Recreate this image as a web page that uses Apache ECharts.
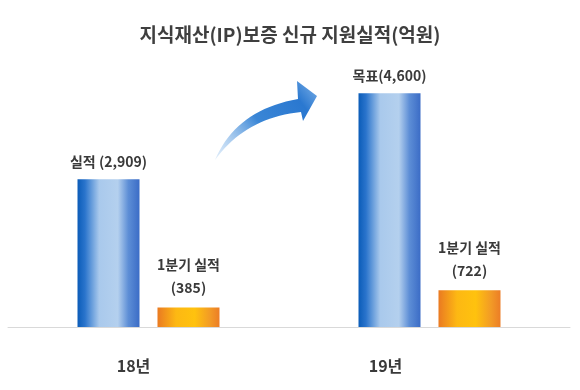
<!DOCTYPE html>
<html><head><meta charset="utf-8">
<script src="https://cdn.jsdelivr.net/npm/echarts@6/dist/echarts.min.js"></script>
<style>html,body{margin:0;padding:0;background:#fff}#c{width:580px;height:390px}</style>
</head><body><div id="c"></div>
<script>
const categories = ['18년', '19년'];
const mainValues = [2909, 4600];
const mainLabels = ['실적 (2,909)', '목표(4,600)'];
const q1Values = [385, 722];
const q1Labels = ['1분기 실적\n(385)', '1분기 실적\n(722)'];

const font = '"Noto Sans CJK KR", "Noto Sans", sans-serif';
const chart = echarts.init(document.getElementById('c'));
function lin(x, y, x2, y2, stops) {
  return {type: 'linear', x: x, y: y, x2: x2, y2: y2,
    colorStops: stops.map(s => ({offset: s[0], color: s[1]}))};
}
const blueGrad = lin(0, 0, 1, 0, [
  [0, '#0b5cb8'], [0.12, '#2a74cc'], [0.35, '#a9c9ec'],
  [0.65, '#b4d0ee'], [0.82, '#5d8ed6'], [1, '#3b6cc6']
]);
const orangeGrad = lin(0, 0, 1, 0, [
  [0, '#ea7a22'], [0.3, '#fdb813'], [0.6, '#ffc20e'], [0.85, '#f29a26'], [1, '#ec7d26']
]);
// decorative arrow outline (quadratic curves sampled)
function quad(p0, p1, p2, n) {
  const pts = [];
  for (let i = 0; i <= n; i++) {
    const t = i / n, u = 1 - t;
    pts.push([u * u * p0[0] + 2 * u * t * p1[0] + t * t * p2[0],
              u * u * p0[1] + 2 * u * t * p1[1] + t * t * p2[1]]);
  }
  return pts;
}
const arrowPts = [].concat(
  quad([215, 160], [236, 110], [298, 99], 20),
  [[297, 81], [317, 96], [303, 121]],
  quad([301, 112], [245, 118], [215, 160], 20)
);
chart.setOption({
  animation: false,
  backgroundColor: '#fff',
  title: {
    text: '지식재산(IP)보증 신규 지원실적(억원)',
    left: 'center', top: 20,
    textStyle: {fontFamily: font, fontSize: 19, fontWeight: 'bold', color: '#3f3f3f'}
  },
  grid: {left: 8, right: 10, top: 73, bottom: 63},
  xAxis: {
    type: 'category', data: categories,
    axisLine: {lineStyle: {color: '#d9d9d9', width: 1}},
    axisTick: {show: false},
    axisLabel: {margin: 31,
      formatter: (v, i) => '{c' + i + '|' + v + '}',
      rich: {
        c0: {padding: [0, 30, 0, 0], fontFamily: font, fontSize: 16, fontWeight: 'bold', color: '#3a3a3a'},
        c1: {padding: [0, 88, 0, 0], fontFamily: font, fontSize: 16, fontWeight: 'bold', color: '#3a3a3a'}
      }}
  },
  yAxis: {type: 'value', min: 0, max: 5000, show: false, splitLine: {show: false}},
  series: [
    {
      type: 'bar', data: mainValues, barWidth: 62, barGap: '29%',
      itemStyle: {color: blueGrad},
      label: {show: true, position: 'top', distance: 11,
        formatter: p => mainLabels[p.dataIndex],
        fontFamily: font, fontSize: 14, fontWeight: 'bold', color: '#3a3a3a'}
    },
    {
      type: 'bar', data: q1Values, barWidth: 62,
      itemStyle: {color: orangeGrad},
      label: {show: true, position: 'top', distance: 8, lineHeight: 23,
        formatter: p => q1Labels[p.dataIndex],
        fontFamily: font, fontSize: 14, fontWeight: 'bold', color: '#3a3a3a'}
    }
  ],
  graphic: [{
    type: 'polygon',
    shape: {points: arrowPts},
    style: {fill: lin(0, 1, 1, 0, [
      [0, 'rgba(160,200,240,0.3)'], [0.45, '#3a86d6'], [0.8, '#2a78d0'], [1, '#7fb2e8']
    ])}
  }]
});
</script></body></html>
